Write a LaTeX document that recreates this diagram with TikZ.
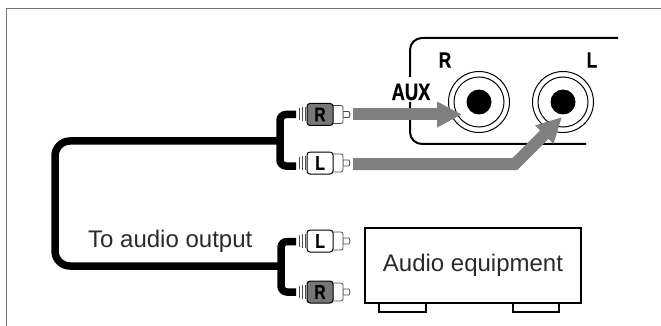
\documentclass[tikz,border=0pt]{standalone}
\usepackage{fontspec}
\setmainfont{Liberation Sans}
\newfontfamily\capfont[FakeStretch=0.78,FakeBold=0.6]{Liberation Sans}
\usetikzlibrary{arrows.meta}
\definecolor{sigray}{HTML}{808080}
\definecolor{plugray}{HTML}{777777}
\definecolor{inkgray}{HTML}{2A2A2A}
\tikzset{
  cable/.style={line width=7.5pt,black},
  sigarrow/.style={line width=12pt,sigray,miter limit=10,-{Triangle[width=24pt,length=25pt]}},
  panel/.style={line width=2pt},
  plugbody/.style={draw,line width=1pt,rounded corners=3pt,minimum width=26pt,minimum height=22pt,inner sep=0pt,font=\capfont\fontsize{20}{20}\selectfont\bfseries},
  plugpart/.style={draw=black!70,fill=white,line width=.8pt},
  caplabel/.style={inner sep=0pt,font=\capfont\fontsize{22}{22}\selectfont\bfseries},
  textlabel/.style={inner sep=0pt,text=inkgray,font=\fontsize{24}{24}\selectfont},
}
\begin{document}
\begin{tikzpicture}[x=1pt,y=-1pt]
\useasboundingbox (0,0) rectangle (661,326);
\draw[line width=1pt,black!55] (661,9) -- (6,9) -- (6,326);
% panel with the two sockets
\draw[panel,rounded corners=12pt] (618,38) -- (410,38) -- (410,77);
\draw[panel,rounded corners=12pt] (410,102) -- (410,144) -- (586,144);
\node[caplabel] (labR) at (445,60) {R};
\node[caplabel] (labL) at (592,60) {L};
\node[caplabel,font=\capfont\fontsize{23.5}{23.5}\selectfont\bfseries] (labAUX) at (411,92) {AUX};
\foreach \n/\x in {jackR/479,jackL/563}{
  \node[circle,draw,line width=1pt,minimum size=61pt,inner sep=0pt] (\n) at (\x,102) {};
  \node[circle,draw,line width=1pt,minimum size=50pt,inner sep=0pt] (\n in) at (\x,102) {};
  \node[circle,fill=black,minimum size=25pt,inner sep=0pt] (\n pin) at (\x,102) {};
}
% plugs
\foreach \n/\lab/\col/\y in {upR/R/plugray/114.5,upL/L/white/163,lowL/L/white/241,lowR/R/plugray/292}{
  \draw[line width=.8pt,black!70] (299,\y-6) -- (299,\y+6);
  \draw[line width=.8pt,black!70] (302,\y-7) -- (302,\y+7);
  \draw[line width=.8pt,black!70] (305,\y-7) -- (305,\y+7);
  \draw[plugpart] (343,\y-3) -- (349,\y-3) -- (350,\y) -- (349,\y+3) -- (343,\y+3) -- cycle;
  \draw[plugpart,rounded corners=2pt] (330,\y-9) -- (343,\y-9) -- (343,\y+9) -- (330,\y+9) -- cycle;
  \node[plugbody,fill=\col] (\n) at (320,\y) {\lab};
}
% cables
\coordinate (upT) at (296,114.5);
\coordinate (upB) at (296,166);
\coordinate (lowT) at (296,241.5);
\coordinate (lowB) at (296,292);
\draw[cable,rounded corners=6pt] (upT) -- (280,114.5) -- (280,166) -- (upB);
\draw[cable,rounded corners=6pt] (lowT) -- (281,241.5) -- (281,292) -- (lowB);
\draw[cable,rounded corners=15pt] (280,141) -- (55,141) -- (55,266) -- (281,266);
% signal arrows
\coordinate (fromR) at (353,114.5);
\coordinate (fromL) at (353,164);
\coordinate (toR) at (462,114.5);
\coordinate (toL) at (562,117);
\coordinate (bendL) at (515,164);
\draw[sigarrow] (fromR) -- (toR);
\draw[sigarrow] (fromL) -- (bendL) -- (toL);
% equipment
\draw[line width=2pt] (379,303) rectangle (426,312);
\draw[line width=2pt] (513,303) rectangle (559,312);
\node[draw,fill=white,line width=2pt,minimum width=216pt,minimum height=75pt,inner sep=0pt,text=inkgray,font=\fontsize{24}{24}\selectfont] (equip) at (473,265.5) {Audio equipment};
\node[textlabel,anchor=base west] (output) at (88,247) {To audio output};
\end{tikzpicture}
\end{document}
